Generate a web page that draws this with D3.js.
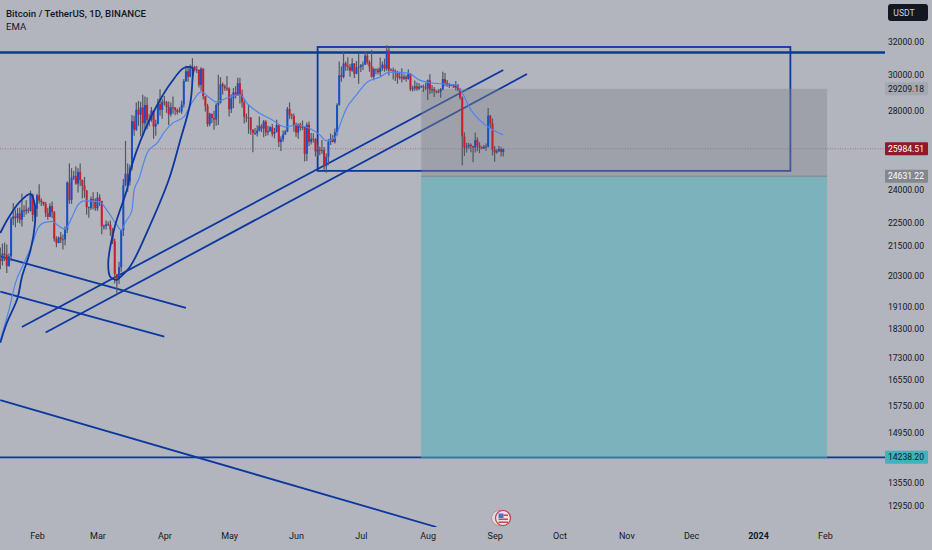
<!DOCTYPE html>
<html lang="en">
<head>
<meta charset="UTF-8">
<title>Bitcoin / TetherUS, 1D</title>
<script src="https://d3js.org/d3.v7.min.js"></script>
<style>
  html, body {margin: 0; padding: 0; background: #b2b5be;}
  svg {display: block;}
  text {font-family: Roboto, "Noto Sans", sans-serif;}
</style>
</head>
<body>
<div id="chart"></div>
<script>
// Daily candles from 15 Jan 2023, one line per month
var startDay = "2023-01-15";
var firstOpen = 20960;
var closes = [
  20880,21185,21130,20670,21070,22670,22780,22700,22910,22630,23050,23010,23080,23030,23770,22840,23120,
  23730,23490,23430,23330,22930,22760,23240,22960,21800,21630,21860,21780,21780,22200,24330,23520,24570,24630,24280,24840,24450,24190,23950,23190,23160,23560,23490,23140,
  23630,23470,22350,22350,22430,22410,22200,21700,20360,20190,20630,22160,24200,24750,24380,25050,27420,26970,28040,27770,28170,27310,28300,27480,27490,27990,27140,27270,28350,28030,28480,
  28450,28200,27790,28170,28170,28030,27910,27950,28330,29650,30230,29900,30390,30480,30300,30320,29430,30380,28800,28240,27260,27820,27590,27510,28300,28420,29470,29340,29240,29230,
  28070,28670,29020,28840,29530,28900,28450,27660,27620,27600,26970,26800,26780,26920,27160,27030,27400,26830,26890,27100,26750,26850,27220,26330,26470,26720,26870,28080,27740,27700,27220,
  26820,27250,27070,27110,25730,27230,26340,26500,26480,25850,25930,25900,25920,25120,25580,26340,26510,26340,26840,28310,29990,29890,30690,30530,30470,30270,30690,30080,30450,30470,
  30590,30620,31160,30770,30510,29900,30350,30290,30170,30410,30620,30380,31470,30310,30290,30230,30140,29860,29910,29800,29900,29790,30080,29180,29230,29350,29210,29320,29350,29280,29230,
  29700,29170,29180,29090,29050,29040,29180,29770,29560,29430,29400,29420,29280,29400,29170,28700,26620,26050,26100,26190,26120,26050,26430,26160,26050,26000,26090,26100,27720,27300,25940,
  25800,25870,25970,25820,25984.51
];
var highs = [
  21440,21600,21650,21560,21190,22750,23370,23080,23160,23180,23800,23280,23500,23180,23950,23800,23320,
  23810,24250,23580,23440,23420,23160,23370,23450,23020,21910,21900,22090,21990,22330,24380,25250,25020,24890,25120,25020,25250,24480,24600,23980,23220,23680,23880,23600,
  23880,23780,23480,22420,22600,22550,22600,22270,21810,20300,20850,22180,24500,26390,25250,25190,27760,27720,28440,28530,28480,28870,28770,28730,27790,28190,28030,27500,28650,29180,28640,
  28800,28530,28500,28440,28770,28180,28100,28180,28530,29770,30550,30490,30620,31000,30550,30540,30320,30470,30400,28750,28370,27880,27820,27980,28400,30020,29880,29570,29450,29950,
  29300,28890,29260,29360,29850,29850,29170,28630,27830,28330,27650,26990,27060,27200,27670,27270,27480,27470,27180,27150,27270,27060,27500,27210,26630,26930,26950,28190,28450,27840,27830,
  27350,27300,27340,27460,27130,27350,27400,26800,26780,26530,26200,26090,26430,26080,25750,26480,26770,26690,27040,28400,30800,30500,31430,30800,31060,30660,31000,30700,30830,31280,
  30650,30800,31380,31320,30880,31500,30450,30380,30440,31050,30800,30980,31800,31640,30400,30450,30340,30250,30190,30410,30050,29990,30350,30100,29380,29690,29570,29530,29410,29450,29530,
  29740,30050,29430,29310,29110,29170,29250,30200,30130,29710,29540,29450,29470,29660,29490,29230,28770,26830,26290,26290,26260,26140,26820,26580,26320,26110,26180,26250,28140,27760,27570,
  26130,25980,26130,26060,25990
];
var lows = [
  20550,20700,20880,20400,20660,20870,22400,22300,22500,22460,22330,22750,22860,22920,22990,22550,22700,
  22760,23360,23240,23250,22750,22630,22750,22700,21690,21450,21610,21630,21350,21530,22050,23340,23340,24450,24230,23860,24150,23590,23620,22850,22720,23060,23100,23030,
  23020,23240,22000,22200,22200,22350,21930,21580,19980,19550,19960,20450,21920,24150,23900,24190,24920,26650,26900,27180,26630,26630,26980,27000,27150,27390,26500,26650,27240,27720,27550,
  28270,27870,27200,27670,27820,27740,27780,27880,27820,28170,29600,29620,29870,29940,30220,30120,29280,29100,28600,27950,27130,27150,27330,26970,27180,27220,28380,28880,29100,29080,
  27670,27870,28130,28670,28820,28380,28160,27300,27370,26760,26700,25810,26690,26620,26880,26840,26580,26640,26680,26860,26620,26520,26820,26080,25870,26340,26700,26840,27530,27530,26860,
  26600,26500,26920,26950,25350,25380,26120,26200,26300,25600,25600,25660,25720,24950,24800,25170,26180,26300,26260,26670,28260,29620,29810,30250,30260,29900,30200,29830,30050,29500,
  30180,30300,30600,30630,30200,29850,29700,30050,30050,29950,30250,30200,30260,29970,30250,29750,29660,29500,29750,29570,29720,29620,29730,29080,29050,29100,29100,29120,29260,29030,29130,
  28580,28920,28960,28750,28950,28960,28700,29120,29350,29320,29250,29360,29270,29120,29060,28600,25170,25620,25800,25980,25810,25310,25800,25860,25760,25960,25970,25880,26050,27050,25650,
  25340,25730,25820,25600,25600
];

// EMA
var emaDays = ["2023-01-15","2023-01-19","2023-01-22","2023-01-26","2023-01-30","2023-02-01","2023-02-04","2023-02-08","2023-02-11","2023-02-14","2023-02-17","2023-02-20","2023-02-23","2023-03-02","2023-03-06","2023-03-10","2023-03-12","2023-03-14","2023-03-17","2023-03-18","2023-03-20","2023-03-24","2023-03-29","2023-04-01","2023-04-05","2023-04-10","2023-04-14","2023-04-18","2023-04-22","2023-04-25","2023-04-30","2023-05-06","2023-05-10","2023-05-15","2023-05-21","2023-05-27","2023-06-01","2023-06-07","2023-06-12","2023-06-15","2023-06-19","2023-06-21","2023-06-24","2023-06-29","2023-07-04","2023-07-10","2023-07-14","2023-07-23","2023-07-28","2023-08-03","2023-08-14","2023-08-17","2023-08-21","2023-08-25","2023-08-29","2023-09-05"];
var emaValues = [17900,18980,20000,20800,21630,22180,22490,22560,22360,22220,22700,23290,23480,23430,22970,22400,22180,22530,23060,23980,24450,25770,26330,26850,27330,27650,28470,29030,28690,28470,28690,28860,28300,27860,27490,27110,27220,27060,26700,26390,26540,27110,28030,28860,29600,29890,30180,30120,29720,29540,29430,28970,28030,27490,27110,26700];

// Drawings: [day, price] pairs
var trendLines = [
  [["2023-01-25",18360],["2023-09-05",30300]],
  [["2023-02-05",18160],["2023-09-16",30060]],
  [["2023-01-15",21070],["2023-04-11",19060]],
  [["2023-01-15",19670],["2023-04-01",18015]],
  [["2023-01-15",15920],["2023-08-05",12430]]
];
var arcJan = [["2023-01-15",22050],["2023-01-19",22750],["2023-01-24",23430],["2023-01-29",23800],["2023-01-31",23300],["2023-01-31",22400],["2023-01-29",21330],["2023-01-25",20240],["2023-01-23",19430],["2023-01-18",18500],["2023-01-15",17800]];
var arcApr = [["2023-03-10",20120],["2023-03-07",20240],["2023-03-06",20800],["2023-03-09",22310],["2023-03-15",24120],["2023-03-16",24790],["2023-03-23",26960],["2023-03-30",28580],["2023-04-04",29540],["2023-04-10",30420],["2023-04-14",30420],["2023-04-14",29720],["2023-04-13",28410],["2023-04-08",26280],["2023-04-03",24450],["2023-03-25",22310],["2023-03-16",20640],["2023-03-10",20120]];
var topLevel = 31350;
var lowLevel = 14238.20;
var lastPrice = 25984.51;
var rangeBox = {from: "2023-06-11", to: "2024-01-16", top: 31690, bottom: 24890};
var positionFrom = "2023-07-29";
var positionTo = "2024-02-02";
var stopPrice = 29209.18;
var entryPrice = 24631.22;
var targetPrice = 14238.20;

var priceTicks = [32000,30000,28000,24000,22500,21500,20300,19100,18300,17300,16550,15750,14950,13550,12950];
var timeTicks = ["2023-02-01","2023-03-01","2023-04-01","2023-05-01","2023-06-01","2023-07-01","2023-08-01","2023-09-01","2023-10-01","2023-11-01","2023-12-01","2024-01-01","2024-02-01"];
var timeLabels = ["Feb","Mar","Apr","May","Jun","Jul","Aug","Sep","Oct","Nov","Dec","2024","Feb"];

var width = 932, height = 550, axisX = 885;
var blue = "#0c379f";

var day = d3.utcParse("%Y-%m-%d");
var x = d3.scaleUtc().domain([day("2023-02-01"), day("2024-01-01")]).range([37, 758]);
var y = d3.scaleLog().domain([12950, 32000]).range([506, 42]);

var candles = closes.map(function(c, i) {
    return {
        date: d3.utcDay.offset(day(startDay), i),
        open: i == 0 ? firstOpen : closes[i - 1],
        close: c,
        high: highs[i],
        low: lows[i]
    };
});

var svg = d3.select("#chart").append("svg")
    .attr("width", width)
    .attr("height", height);

svg.append("rect")
    .attr("width", width)
    .attr("height", height)
    .attr("fill", "#b2b5be");

svg.append("clipPath").attr("id", "plot")
    .append("rect")
    .attr("width", axisX)
    .attr("height", 527);

var plot = svg.append("g").attr("clip-path", "url(#plot)");

function level(price, color, w, dash) {
    plot.append("line")
        .attr("x1", 0).attr("x2", axisX)
        .attr("y1", y(price)).attr("y2", y(price))
        .attr("stroke", color)
        .attr("stroke-width", w)
        .attr("stroke-dasharray", dash);
}

level(lastPrice, "#a8606b", 0.8, "1 1.5");
level(topLevel, blue, 2.4);
level(lowLevel, blue, 1.6);

// Channel and range box sit under the position tool
var straight = d3.line()
    .x(function(d) { return x(day(d[0])); })
    .y(function(d) { return y(d[1]); });

plot.selectAll(".trend")
    .data(trendLines)
    .enter().append("path")
    .attr("class", "trend")
    .attr("d", straight)
    .attr("fill", "none")
    .attr("stroke", blue)
    .attr("stroke-width", 1.8);

plot.append("rect")
    .attr("x", x(day(rangeBox.from)))
    .attr("y", y(rangeBox.top))
    .attr("width", x(day(rangeBox.to)) - x(day(rangeBox.from)))
    .attr("height", y(rangeBox.bottom) - y(rangeBox.top))
    .attr("fill", "none")
    .attr("stroke", blue)
    .attr("stroke-width", 1.8);

// Position tool
var boxX = x(day(positionFrom));
var boxW = x(day(positionTo)) - boxX;

plot.append("rect")
    .attr("x", boxX)
    .attr("y", y(stopPrice))
    .attr("width", boxW)
    .attr("height", y(entryPrice) - y(stopPrice))
    .attr("fill", "#84868f")
    .attr("fill-opacity", 0.42);

plot.append("rect")
    .attr("x", boxX)
    .attr("y", y(entryPrice))
    .attr("width", boxW)
    .attr("height", y(targetPrice) - y(entryPrice))
    .attr("fill", "#7bb2bb");

plot.append("line")
    .attr("x1", boxX).attr("x2", boxX + boxW)
    .attr("y1", y(entryPrice)).attr("y2", y(entryPrice))
    .attr("stroke", "#85878f")
    .attr("stroke-width", 1);

plot.append("line")
    .attr("x1", boxX).attr("x2", boxX + boxW)
    .attr("y1", y(targetPrice)).attr("y2", y(targetPrice))
    .attr("stroke", "#2e7fb0")
    .attr("stroke-width", 1.6);

// Candles
plot.selectAll(".wick")
    .data(candles)
    .enter().append("line")
    .attr("class", "wick")
    .attr("x1", function(d) { return x(d.date); })
    .attr("x2", function(d) { return x(d.date); })
    .attr("y1", function(d) { return y(d.high); })
    .attr("y2", function(d) { return y(d.low); })
    .attr("stroke", "#55575f")
    .attr("stroke-width", 1.2);

plot.selectAll(".body")
    .data(candles)
    .enter().append("rect")
    .attr("class", "body")
    .attr("x", function(d) { return x(d.date) - 1; })
    .attr("width", 2)
    .attr("y", function(d) { return y(Math.max(d.open, d.close)); })
    .attr("height", function(d) { return Math.max(0.8, Math.abs(y(d.open) - y(d.close))); })
    .attr("fill", function(d) { return d.close >= d.open ? "#1b4fc6" : "#c6202f"; });

// EMA
var emaLine = d3.line()
    .x(function(d, i) { return x(day(emaDays[i])); })
    .y(function(d) { return y(d); })
    .curve(d3.curveMonotoneX);

plot.append("path")
    .attr("d", emaLine(emaValues))
    .attr("fill", "none")
    .attr("stroke", "#4d84f0")
    .attr("stroke-width", 1.2);

// Arcs
var curved = d3.line()
    .x(function(d) { return x(day(d[0])); })
    .y(function(d) { return y(d[1]); })
    .curve(d3.curveCatmullRom);

plot.selectAll(".arc")
    .data([arcJan, arcApr])
    .enter().append("path")
    .attr("class", "arc")
    .attr("d", curved)
    .attr("fill", "none")
    .attr("stroke", blue)
    .attr("stroke-width", 1.8);

// Axes
var yAxis = d3.axisRight(y)
    .tickValues(priceTicks)
    .tickFormat(d3.format(".2f"))
    .tickSize(0);

var yG = svg.append("g")
    .attr("transform", "translate(" + axisX + ",0)")
    .call(yAxis);
yG.select(".domain").remove();
yG.selectAll("text")
    .attr("x", 39)
    .attr("text-anchor", "end")
    .attr("font-size", 8.6)
    .attr("font-family", "Roboto, sans-serif")
    .attr("fill", "#131722");

var xAxis = d3.axisBottom(x)
    .tickValues(timeTicks.map(day))
    .tickFormat(function(d, i) { return timeLabels[i]; })
    .tickSize(0)
    .tickPadding(0);

var xG = svg.append("g")
    .attr("transform", "translate(0,533)")
    .call(xAxis);
xG.select(".domain").remove();
xG.selectAll("text")
    .attr("font-size", 9)
    .attr("font-family", "Roboto, sans-serif")
    .attr("fill", "#131722")
    .attr("font-weight", function(d, i) { return timeLabels[i] == "2024" ? "bold" : "normal"; });

// Price badges
var badges = [
    {price: stopPrice, fill: "#a6a8b1", color: "#131722"},
    {price: lastPrice, fill: "#8e1a2b", color: "#ffffff"},
    {price: entryPrice, fill: "#85878f", color: "#ffffff"},
    {price: targetPrice, fill: "#3fb2bc", color: "#131722"}
];

var badge = svg.selectAll(".badge")
    .data(badges)
    .enter().append("g")
    .attr("class", "badge")
    .attr("transform", function(d) { return "translate(" + axisX + "," + y(d.price) + ")"; });

badge.append("rect")
    .attr("y", -6.5)
    .attr("width", 43)
    .attr("height", 13)
    .attr("rx", 1)
    .attr("fill", function(d) { return d.fill; });

badge.append("text")
    .attr("x", 39)
    .attr("y", 3.1)
    .attr("text-anchor", "end")
    .attr("font-size", 8.6)
    .attr("fill", function(d) { return d.color; })
    .text(function(d) { return d.price.toFixed(2); });

// Currency button
svg.append("rect")
    .attr("x", 888).attr("y", 4)
    .attr("width", 40).attr("height", 17)
    .attr("rx", 3)
    .attr("fill", "#131722");

svg.append("text")
    .attr("x", 904).attr("y", 15.5)
    .attr("text-anchor", "middle")
    .attr("font-size", 8.6)
    .attr("fill", "#d1d4dc")
    .text("USDT");

// Title
svg.append("text")
    .attr("x", 6).attr("y", 16.5)
    .attr("font-size", 9.7)
    .attr("font-weight", 500)
    .attr("fill", "#131722")
    .text("Bitcoin / TetherUS, 1D, BINANCE");

svg.append("text")
    .attr("x", 6).attr("y", 30)
    .attr("font-size", 9.6)
    .attr("fill", "#131722")
    .text("EMA");

// Economic event flag
var flag = svg.append("g").attr("transform", "translate(503,518)");

flag.append("circle")
    .attr("cx", -4).attr("r", 7.5)
    .attr("fill", "#dcdce0")
    .attr("stroke", "#b98f98");

flag.append("circle")
    .attr("r", 7.5)
    .attr("fill", "#e6e6ea")
    .attr("stroke", "#c23a48")
    .attr("stroke-width", 1.2);

flag.append("rect")
    .attr("x", -4.5).attr("y", -4.5)
    .attr("width", 5).attr("height", 4.5)
    .attr("fill", "#4a6fc0");

flag.selectAll(".stripe")
    .data([-3.5, 0.5, 3.5])
    .enter().append("rect")
    .attr("class", "stripe")
    .attr("x", function(d) { return d < 0 ? 0.5 : -4.5; })
    .attr("y", function(d) { return d; })
    .attr("width", function(d) { return d < 0 ? 4.5 : 9.5; })
    .attr("height", 1.4)
    .attr("fill", "#c8394a");
</script>
</body>
</html>
